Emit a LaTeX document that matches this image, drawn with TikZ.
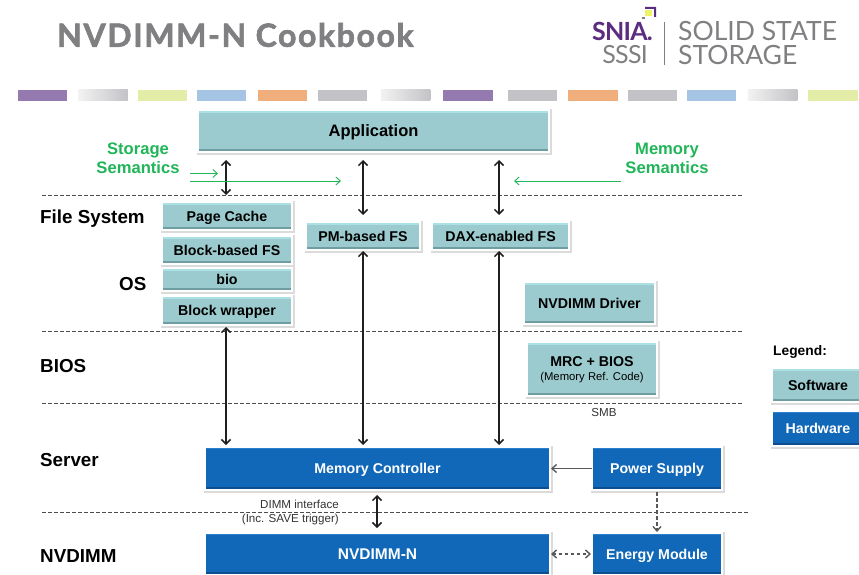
\documentclass[tikz,border=0pt]{standalone}
\usepackage{fontspec}
\setmainfont{Liberation Sans}
\newfontfamily\titlefont[LetterSpace=5,BoldFeatures={FakeBold=2}]{Lato}
\newfontfamily\logofont[LetterSpace=-3]{Lato}
\newfontfamily\logotext{Lato}
\usetikzlibrary{arrows.meta,shadows,calc}
\definecolor{teal}{HTML}{9BCBCE}
\definecolor{tealtop}{HTML}{ABE0E5}
\definecolor{tealbot}{HTML}{6F9EA2}
\definecolor{hw}{HTML}{1268B8}
\definecolor{hwtop}{HTML}{2C7FCC}
\definecolor{hwbot}{HTML}{0C4E8E}
\definecolor{grn}{HTML}{20B558}
\definecolor{ttl}{HTML}{808083}
\definecolor{barp}{HTML}{957AB0}
\definecolor{bary}{HTML}{E4EDA8}
\definecolor{barb}{HTML}{A6C5E5}
\definecolor{baro}{HTML}{EFAE7C}
\definecolor{barg}{HTML}{C3C3C7}
\definecolor{snia}{HTML}{5B2C80}
\tikzset{
  box/.style={rectangle,inner sep=0pt,outer sep=0pt,align=center,draw=white,line width=2.2pt,text depth=0pt,
    drop shadow={shadow xshift=.6pt,shadow yshift=-.9pt,opacity=.14,fill=black,draw=black,line width=4pt}},
  swbox/.style={box,fill=teal,text=black,font=\bfseries\fontsize{14.2}{15}\selectfont},
  hwbox/.style={box,fill=hw,text=white,font=\bfseries\fontsize{14.2}{15}\selectfont},
  lvl/.style={anchor=west,inner sep=0pt,text=black,text depth=0pt,font=\bfseries\fontsize{18.8}{20}\selectfont},
  grnlab/.style={inner sep=0pt,align=center,text=grn,font=\bfseries\fontsize{16.6}{19}\selectfont},
  small/.style={inner sep=0pt,align=center,text=black!80,font=\fontsize{11.6}{14}\selectfont},
  sep/.style={draw=black!70,line width=.7pt,dash pattern=on 3.5pt off 2.5pt},
  biarrow/.style={draw=black!88,line width=1.5pt,{Straight Barb[length=4.5pt,width=9pt]}-{Straight Barb[length=4.5pt,width=9pt]}},
  grnarrow/.style={draw=grn,line width=.9pt,-{Straight Barb[length=4.5pt,width=8pt]}},
  greyarrow/.style={draw=black!65,line width=1.4pt,-{Straight Barb[length=4.5pt,width=8pt]}},
  dasharrow/.style={draw=black!65,line width=1.4pt,dash pattern=on 3.5pt off 2.5pt},
  bar/.style={inner sep=0pt,outer sep=0pt,minimum height=11pt,minimum width=49.5pt},
}
\begin{document}
\begin{tikzpicture}[x=1pt,y=-1pt]
\useasboundingbox (0,0) rectangle (859,575);
\clip (0,0) rectangle (859,575);
% title and logo
\node[anchor=west,inner sep=0pt,text=ttl,font=\titlefont\bfseries\fontsize{32}{34}\selectfont] (title) at (57,35) {NVDIMM-N Cookbook};
\node[anchor=east,inner sep=0pt,text=snia,font=\logofont\bfseries\fontsize{25}{28}\selectfont] (snia) at (653,31) {SNIA.};
\node[anchor=east,inner sep=0pt,text=ttl,font=\logofont\fontsize{25}{28}\selectfont] (sssi) at (648,55) {SSSI};
\node[anchor=west,inner sep=0pt,align=left,text=ttl,font=\logotext\fontsize{26.5}{23.5}\selectfont] (solid) at (678,43) {SOLID STATE\\STORAGE};
\draw[ttl,line width=1.2pt] (664.5,22) -- (664.5,65);
\fill[snia] (645,7) rectangle (656,9) (654,7) rectangle (656,17);
\fill[bary!60!yellow] (645,10) rectangle (651.5,16.5);
\fill[ttl] (642,17) rectangle (644.5,19.5);
% colour bars
\node[bar,fill=barp] (b1) at (42.5,95.5) {};
\node[bar,left color=black!5,right color=barg] (b2) at (103,95.5) {};
\node[bar,fill=bary] (b3) at (162.5,95.5) {};
\node[bar,fill=barb] (b4) at (221.5,95.5) {};
\node[bar,fill=baro] (b5) at (282.5,95.5) {};
\node[bar,fill=barg] (b6) at (342.5,95.5) {};
\node[bar,left color=black!5,right color=barg] (b7) at (405.5,95.5) {};
\node[bar,fill=barp] (b8) at (468,95.5) {};
\node[bar,fill=barg] (b9) at (532.5,95.5) {};
\node[bar,fill=baro] (b10) at (593,95.5) {};
\node[bar,fill=barg] (b11) at (652.5,95.5) {};
\node[bar,fill=barb] (b12) at (711.5,95.5) {};
\node[bar,left color=black!5,right color=barg] (b13) at (772.5,95.5) {};
\node[bar,fill=bary] (b14) at (833,95.5) {};
% separators
\coordinate (sl1) at (42,195);   \coordinate (sr1) at (743,195);
\coordinate (sl2) at (42,331.5); \coordinate (sr2) at (743,331.5);
\coordinate (sl3) at (42,403);   \coordinate (sr3) at (743,403);
\coordinate (sl4) at (42,512.5); \coordinate (sr4) at (750,512.5);
\draw[sep] (sl1) -- (sr1);
\draw[sep] (sl2) -- (sr2);
\draw[sep] (sl3) -- (sr3);
\draw[sep] (sl4) -- (sr4);
% software boxes
\node[swbox,minimum width=351pt,minimum height=42pt,font=\bfseries\fontsize{16.5}{18}\selectfont] (app) at (373.5,131) {Application};
\node[swbox,minimum width=130pt,minimum height=28pt] (pc) at (227,216) {Page Cache};
\node[swbox,minimum width=130pt,minimum height=28pt] (bfs) at (227,250) {Block-based FS};
\node[swbox,minimum width=130pt,minimum height=23pt] (bio) at (227,279.5) {bio};
\node[swbox,minimum width=130pt,minimum height=29pt] (bw) at (227,310.5) {Block wrapper};
\node[swbox,minimum width=114pt,minimum height=28pt] (pm) at (363,236) {PM-based FS};
\node[swbox,minimum width=137pt,minimum height=28pt] (dax) at (500.5,236) {DAX-enabled FS};
\node[swbox,minimum width=131pt,minimum height=42pt] (drv) at (589.5,303) {NVDIMM Driver};
\node[swbox,minimum width=130pt,minimum height=54pt,align=center] (mrc) at (592,369) {MRC + BIOS\\[-1pt]{\mdseries\fontsize{11.3}{13}\selectfont (Memory Ref. Code)}};
\node[swbox,minimum width=92pt,minimum height=34pt] (legsw) at (818,385) {Software};
% hardware boxes
\node[hwbox,minimum width=345pt,minimum height=43pt] (mc) at (377.5,468.5) {Memory Controller};
\node[hwbox,minimum width=345pt,minimum height=42pt,font=\bfseries\fontsize{15.5}{17}\selectfont] (nv) at (377.5,554) {NVDIMM-N};
\node[hwbox,minimum width=130pt,minimum height=43pt] (ps) at (657,468.5) {Power Supply};
\node[hwbox,minimum width=130pt,minimum height=42pt] (em) at (657,554) {Energy Module};
\node[hwbox,minimum width=92pt,minimum height=35pt] (leghw) at (818,428.5) {Hardware};
% bevel edges of the boxes
\foreach \n in {app,pc,bfs,bio,bw,pm,dax,drv,mrc,legsw}{
  \fill[tealtop] ([xshift=1.1pt,yshift=-1.1pt]\n.north west) rectangle ([xshift=-1.1pt,yshift=-2.7pt]\n.north east);
  \fill[tealbot] ([xshift=1.1pt,yshift=1.1pt]\n.south west) rectangle ([xshift=-1.1pt,yshift=3.4pt]\n.south east);
}
\foreach \n in {mc,nv,ps,em,leghw}{
  \fill[hwtop] ([xshift=1.1pt,yshift=-1.1pt]\n.north west) rectangle ([xshift=-1.1pt,yshift=-2.4pt]\n.north east);
  \fill[hwbot] ([xshift=1.1pt,yshift=1.1pt]\n.south west) rectangle ([xshift=-1.1pt,yshift=3.3pt]\n.south east);
}
% labels
\node[lvl] (lfs) at (40,217) {File System};
\node[lvl] (los) at (119,284) {OS};
\node[lvl] (lbios) at (40,366) {BIOS};
\node[lvl] (lsrv) at (40,460) {Server};
\node[lvl] (lnv) at (40,556) {NVDIMM};
\node[anchor=west,inner sep=0pt,text=black,font=\bfseries\fontsize{13.8}{15}\selectfont] (leg) at (773,352) {Legend:};
\node[grnlab] (ss) at (138,158) {Storage\\Semantics};
\node[grnlab] (ms) at (667,158) {Memory\\Semantics};
\node[small] (smb) at (604,412.5) {SMB};
\node[small,anchor=east,align=right] (dimm) at (339,512.5) {DIMM interface\\(Inc. SAVE trigger)};
% channels
\coordinate (chA) at (226,0);
\coordinate (chB) at (363,0);
\coordinate (chC) at (499,0);
\coordinate (chD) at (377,0);
\coordinate (ssa) at (190,173.5);
\coordinate (ssae) at (218,173.5);
\coordinate (ssb) at (190,181);
\coordinate (ssbe) at (341,181);
\coordinate (msa) at (621,181);
\coordinate (msae) at (514,181);
% connectors
\draw[biarrow,shorten <=8pt,shorten >=7pt] (chA |- app.south) -- (chA |- pc.north);
\draw[biarrow,shorten <=8pt,shorten >=7pt] (chB |- app.south) -- (chB |- pm.north);
\draw[biarrow,shorten <=8pt,shorten >=7pt] (chC |- app.south) -- (chC |- dax.north);
\draw[biarrow,shorten <=2pt,shorten >=2pt] (chA |- bw.south) -- (chA |- mc.north);
\draw[biarrow,shorten <=1pt,shorten >=2pt] (chB |- pm.south) -- (chB |- mc.north);
\draw[biarrow,shorten <=1pt,shorten >=2pt] (chC |- dax.south) -- (chC |- mc.north);
\draw[biarrow,shorten <=5pt,shorten >=5pt] (chD |- mc.south) -- (chD |- nv.north);
\draw[greyarrow,shorten >=1pt] (ps.west) -- (mc.east);
\draw[dasharrow,shorten <=2pt,shorten >=1pt,-{Straight Barb[length=4.5pt,width=8pt]}] (ps.south) -- (em.north);
\draw[dasharrow,shorten <=1pt,shorten >=1pt,{Straight Barb[length=4.5pt,width=8pt]}-{Straight Barb[length=4.5pt,width=8pt]}] (nv.east) -- (em.west);
\draw[grnarrow] (ssa) -- (ssae);
\draw[grnarrow] (ssb) -- (ssbe);
\draw[grnarrow] (msa) -- (msae);
\end{tikzpicture}
\end{document}
